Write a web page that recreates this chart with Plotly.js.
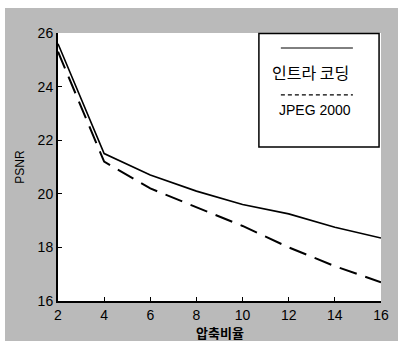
<!DOCTYPE html>
<html>
<head>
<meta charset="utf-8">
<script src="https://cdn.plot.ly/plotly-3.0.1.min.js"></script>
<style>
html,body{margin:0;padding:0;background:#ffffff;}
#chart{position:absolute;left:5px;top:8px;width:393px;height:333px;}
</style>
</head>
<body>
<div id="chart"></div>
<script>
// Compression ratio (x) and PSNR (y)
const ratios = [2, 4, 6, 8, 10, 12, 14, 16];
const intraPSNR = [25.6, 21.5, 20.7, 20.1, 19.6, 19.25, 18.75, 18.35];
const jpeg2000PSNR = [25.3, 21.2, 20.2, 19.5, 18.8, 18.0, 17.3, 16.7];
const seriesNames = ["인트라 코딩", "JPEG 2000"];
const xTicks = [2, 4, 6, 8, 10, 12, 14, 16];
const yTicks = [16, 18, 20, 22, 24, 26];
const xTitle = "압축비율";
const yTitle = "PSNR";

const tickFont = {family: "Liberation Sans, Arial, sans-serif", size: 14, color: "#000"};
const kFont = "Noto Sans CJK KR, sans-serif";

const traces = [
  {x: ratios, y: intraPSNR, name: seriesNames[0], mode: "lines",
   line: {color: "#000", width: 1.6}, showlegend: false},
  {x: ratios, y: jpeg2000PSNR, name: seriesNames[1], mode: "lines",
   line: {color: "#000", width: 2, dash: "18px,9px"}, showlegend: false}
];

const layout = {
  width: 393, height: 333,
  margin: {l: 53, r: 17, t: 25, b: 40},
  paper_bgcolor: "#bababa",
  plot_bgcolor: "#ffffff",
  xaxis: {
    range: [2, 16], tickvals: xTicks, ticktext: xTicks.map(String),
    showgrid: false, zeroline: false, showline: true, linecolor: "#000", linewidth: 2,
    ticks: "inside", ticklen: 4, tickcolor: "#000", tickfont: tickFont
  },
  yaxis: {
    range: [16, 26], tickvals: yTicks, ticktext: yTicks.map(String),
    showgrid: false, zeroline: false, showline: true, linecolor: "#000", linewidth: 2,
    ticks: "inside", ticklen: 4, tickcolor: "#000", tickfont: tickFont,
    title: {text: yTitle, font: {family: "Liberation Sans, Arial, sans-serif", size: 12, color: "#000"}, standoff: 10}
  },
  shapes: [
    {type: "rect", xref: "paper", yref: "paper", x0: 0.622, x1: 0.994, y0: 0.575, y1: 0.998,
     line: {color: "#000", width: 1.5}, fillcolor: "#ffffff", layer: "above"},
    {type: "line", xref: "paper", yref: "paper", x0: 0.69, x1: 0.913, y0: 0.944, y1: 0.944,
     line: {color: "#000", width: 1}},
    {type: "line", xref: "paper", yref: "paper", x0: 0.69, x1: 0.913, y0: 0.769, y1: 0.769,
     line: {color: "#000", width: 1.2, dash: "4px,3px"}}
  ],
  annotations: [
    {xref: "paper", yref: "paper", x: 0.783, y: 0.854, xanchor: "center", yanchor: "middle",
     text: seriesNames[0], showarrow: false,
     font: {family: kFont, size: 16, color: "#000"}},
    {xref: "paper", yref: "paper", x: 0.797, y: 0.713, xanchor: "center", yanchor: "middle",
     text: seriesNames[1], showarrow: false,
     font: {family: "Liberation Sans, Arial, sans-serif", size: 14, color: "#000"}},
    {xref: "paper", yref: "paper", x: 0.5, y: -0.118, xanchor: "center", yanchor: "middle",
     text: "<b>" + xTitle + "</b>", showarrow: false, borderpad: 0,
     font: {family: kFont, size: 13, color: "#000"}}
  ]
};

Plotly.newPlot("chart", traces, layout, {displayModeBar: false, staticPlot: true});
</script>
</body>
</html>
